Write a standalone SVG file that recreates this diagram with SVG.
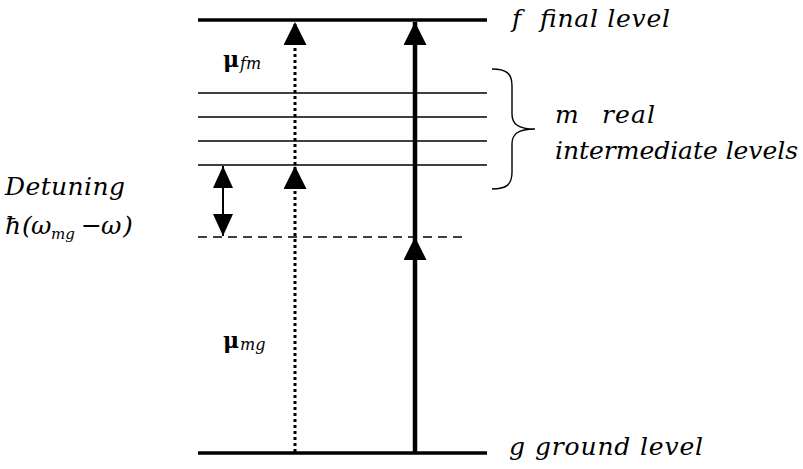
<svg xmlns="http://www.w3.org/2000/svg" width="803" height="469" viewBox="0 0 803 469">
<defs>
<marker id="ah" markerUnits="userSpaceOnUse" markerWidth="24" markerHeight="24" viewBox="0 0 24 24" refX="23" refY="11.5" orient="auto">
<path d="M0,0 L23,11.5 L0,23 Z" fill="#000"/>
</marker>
<marker id="ahs" markerUnits="userSpaceOnUse" markerWidth="24" markerHeight="22" viewBox="0 0 24 22" refX="22" refY="10" orient="auto">
<path d="M0,0 L22,10 L0,20 Z" fill="#000"/>
</marker>
</defs>
<style>
.lvl{stroke:#000;stroke-width:3.5;fill:none}
.thin{stroke:#000;stroke-width:1.4;fill:none}
text{font-family:"DejaVu Serif",serif;fill:#000}
.t{font-style:italic;font-size:25px}
.mu{font-weight:bold;font-size:22px;font-style:normal}
.sub{font-style:italic;font-size:16px}
.sub2{font-style:italic;font-size:15px}
</style>
<rect width="803" height="469" fill="#fff"/>
<g id="final-level">
<line class="lvl" x1="198" y1="20" x2="487" y2="20"/>
<text class="t" x="512" y="27">f</text>
<text class="t" x="540" y="27" textLength="130" lengthAdjust="spacing">final level</text>
</g>
<g id="intermediate-levels">
<line class="thin" x1="198" y1="93" x2="487" y2="93"/>
<line class="thin" x1="198" y1="117" x2="487" y2="117"/>
<line class="thin" x1="198" y1="141" x2="487" y2="141"/>
<line class="thin" x1="198" y1="165" x2="487" y2="165"/>
<path class="thin" d="M492,69 C506,69 512,73 512,86 L512,114 C512,124 518,129 535,129 C518,129 512,134 512,144 L512,172 C512,185 506,189 492,189"/>
<text class="t" x="555" y="123">m</text>
<text class="t" x="602" y="123" textLength="53" lengthAdjust="spacing">real</text>
<text class="t" x="555" y="159" textLength="243" lengthAdjust="spacing">intermediate levels</text>
</g>
<g id="virtual-level">
<line stroke="#000" stroke-width="1.4" stroke-dasharray="9,6" x1="198" y1="237" x2="464" y2="237"/>
</g>
<g id="ground-level">
<line class="lvl" x1="198" y1="453" x2="487" y2="453"/>
<text class="t" x="509" y="455">g</text>
<text class="t" x="535" y="455" textLength="168" lengthAdjust="spacing">ground level</text>
</g>
<g id="detuning">
<text class="t" x="5" y="195" textLength="120" lengthAdjust="spacing">Detuning</text>
<text class="t" y="234"><tspan x="5">ħ</tspan><tspan x="22">(</tspan><tspan x="31">ω</tspan><tspan class="sub2" x="51" dy="5">mg</tspan><tspan x="81" dy="-5" style="font-style:normal">−</tspan><tspan x="101">ω</tspan><tspan x="123">)</tspan></text>
</g>
<g id="labels">
<text x="223" y="67"><tspan class="mu">μ</tspan><tspan class="sub" dx="1" dy="2">fm</tspan></text>
<text x="223" y="348"><tspan class="mu">μ</tspan><tspan class="sub" dx="1" dy="2">mg</tspan></text>
</g>
<g id="connectors">
<line stroke="#000" stroke-width="3" stroke-dasharray="3,3" x1="295" y1="452" x2="295" y2="166" marker-end="url(#ah)"/>
<line stroke="#000" stroke-width="3" stroke-dasharray="3,3" x1="295" y1="165" x2="295" y2="22" marker-end="url(#ah)"/>
<line stroke="#000" stroke-width="4.5" x1="415" y1="452" x2="415" y2="237" marker-end="url(#ah)"/>
<line stroke="#000" stroke-width="4.5" x1="415" y1="237" x2="415" y2="22" marker-end="url(#ah)"/>
<line stroke="#000" stroke-width="2" x1="223" y1="180" x2="223" y2="166" marker-end="url(#ahs)"/>
<line stroke="#000" stroke-width="2" x1="223" y1="180" x2="223" y2="236" marker-end="url(#ahs)"/>
</g>
</svg>
